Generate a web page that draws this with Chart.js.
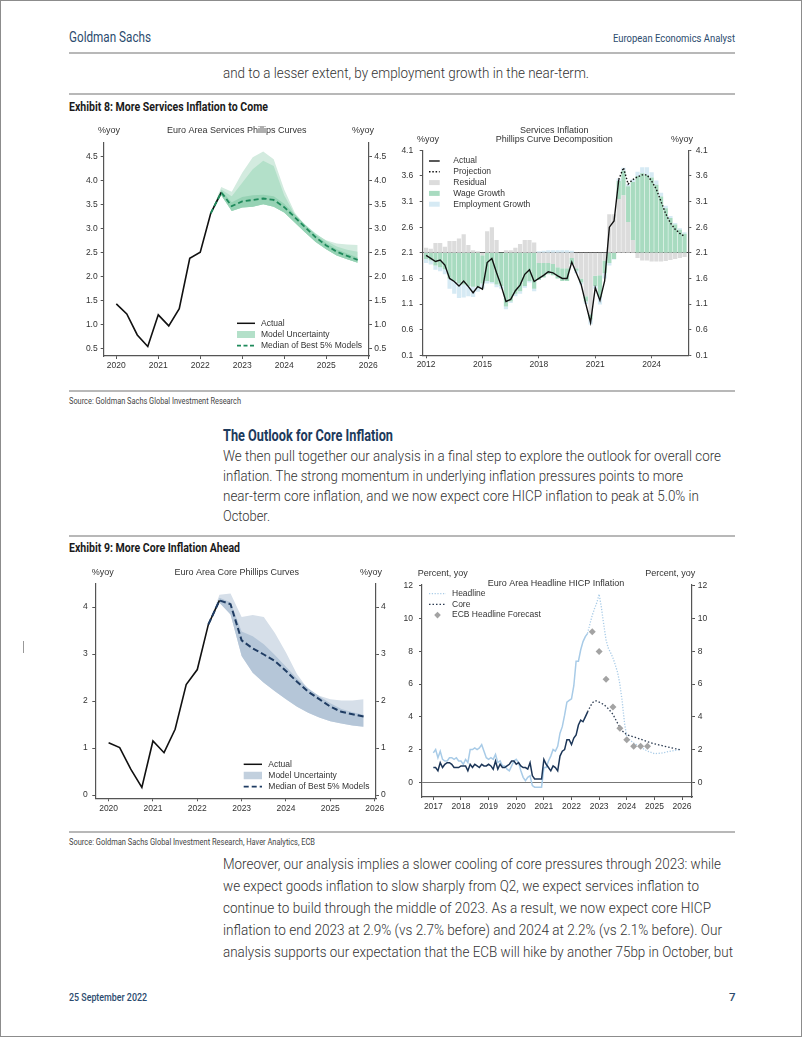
<!DOCTYPE html>
<html>
<head>
<meta charset="utf-8">
<script src="https://cdn.jsdelivr.net/npm/chart.js@4.4.1/dist/chart.umd.min.js"></script>
<style>
html, body { margin: 0; padding: 0; background: #fff; }
#page { position: relative; width: 802px; height: 1037px; box-sizing: border-box; border: 1px solid #8c8c8c; overflow: hidden; font-family: Roboto, "Liberation Sans", sans-serif; }
.t { position: absolute; white-space: nowrap; line-height: 1; transform-origin: 0 50%; transform: translateY(-50%); }
.body { font-size: 14px; font-weight: 300; color: #333; }
.hd { font-weight: 700; color: #1a1a1a; font-size: 12px; }
.src { font-size: 8.5px; color: #444; }
.navy { color: #2c4b6e; }
.rule { position: absolute; left: 68px; width: 666px; height: 2px; background: #b8b8b8; }
canvas { position: absolute; }
</style>
</head>
<body>
<div id="page">
  <div class="t navy fit" data-w="82" style="left:68px;top:36px;font-size:15px">Goldman Sachs</div>
  <div class="t navy fit" data-w="122" style="left:612px;top:38px;font-size:11.5px">European Economics Analyst</div>
  <div class="rule" style="top:51px"></div>
  <div class="t body fit" data-w="366" style="left:222px;top:72px">and to a lesser extent, by employment growth in the near-term.</div>
  <div class="rule" style="top:92px"></div>
  <div class="t hd fit" data-w="199" style="left:68px;top:106px">Exhibit 8: More Services Inflation to Come</div>

  <canvas id="c1" width="320" height="262" style="left:80px;top:118px"></canvas>
  <canvas id="c2" width="340" height="262" style="left:400px;top:118px"></canvas>

  <div class="rule" style="top:389px"></div>
  <div class="t src fit" data-w="172" style="left:68px;top:400px">Source: Goldman Sachs Global Investment Research</div>
  <div class="t fit" data-w="170" style="left:222px;top:435px;font-size:16px;font-weight:700;color:#1d3a5c">The Outlook for Core Inflation</div>
  <div class="t body fit" data-w="498" style="left:222px;top:455px">We then pull together our analysis in a final step to explore the outlook for overall core</div>
  <div class="t body fit" data-w="460" style="left:222px;top:475px">inflation. The strong momentum in underlying inflation pressures points to more</div>
  <div class="t body fit" data-w="476" style="left:222px;top:495px">near-term core inflation, and we now expect core HICP inflation to peak at 5.0% in</div>
  <div class="t body fit" data-w="47" style="left:222px;top:515px">October.</div>
  <div class="rule" style="top:534px"></div>
  <div class="t hd fit" data-w="171" style="left:68px;top:547px">Exhibit 9: More Core Inflation Ahead</div>

  <canvas id="c3" width="320" height="262" style="left:80px;top:560px"></canvas>
  <canvas id="c4" width="340" height="262" style="left:400px;top:560px"></canvas>
  <div style="position:absolute;left:22px;top:640px;width:1px;height:12px;background:#999"></div>

  <div class="rule" style="top:830px"></div>
  <div class="t src fit" data-w="246" style="left:68px;top:841px">Source: Goldman Sachs Global Investment Research, Haver Analytics, ECB</div>
  <div class="t body fit" data-w="498" style="left:222px;top:863px">Moreover, our analysis implies a slower cooling of core pressures through 2023: while</div>
  <div class="t body fit" data-w="476" style="left:222px;top:885px">we expect goods inflation to slow sharply from Q2, we expect services inflation to</div>
  <div class="t body fit" data-w="488" style="left:222px;top:907px">continue to build through the middle of 2023. As a result, we now expect core HICP</div>
  <div class="t body fit" data-w="499" style="left:222px;top:929px">inflation to end 2023 at 2.9% (vs 2.7% before) and 2024 at 2.2% (vs 2.1% before). Our</div>
  <div class="t body fit" data-w="510" style="left:222px;top:951px">analysis supports our expectation that the ECB will hike by another 75bp in October, but</div>
  <div class="t navy fit" data-w="78" style="left:68px;top:997px;font-size:11.5px;font-weight:500">25 September 2022</div>
  <div class="t navy" style="left:728px;top:997px;font-size:11.5px;font-weight:500">7</div>
</div>

<script>
// ---------- data: Exhibit 8 left (services Phillips curves, quarterly) ----------
const svActualX = [2020, 2020.25, 2020.5, 2020.75, 2021, 2021.25, 2021.5, 2021.75, 2022, 2022.25, 2022.5];
const svActual = [1.43, 1.22, 0.78, 0.54, 1.2, 0.97, 1.33, 2.38, 2.51, 3.32, 3.76];
const svProjX = [2022.25, 2022.5, 2022.75, 2023, 2023.25, 2023.5, 2023.75, 2024, 2024.25, 2024.5, 2024.75, 2025, 2025.25, 2025.5, 2025.75];
const svMedian = [3.32, 3.76, 3.47, 3.57, 3.6, 3.63, 3.6, 3.45, 3.24, 3.03, 2.82, 2.65, 2.52, 2.43, 2.35];
const svUpperOuter = [3.32, 3.87, 3.77, 4.17, 4.49, 4.61, 4.45, 3.82, 3.34, 3.06, 2.88, 2.76, 2.69, 2.67, 2.66];
const svUpperInner = [3.32, 3.82, 3.68, 3.96, 4.24, 4.42, 4.31, 3.7, 3.3, 3.08, 2.9, 2.75, 2.63, 2.56, 2.52];
const svUpperCore = [3.32, 3.8, 3.55, 3.66, 3.7, 3.71, 3.68, 3.52, 3.3, 3.08, 2.87, 2.7, 2.57, 2.48, 2.4];
const svLower = [3.32, 3.7, 3.37, 3.44, 3.46, 3.51, 3.46, 3.34, 3.13, 2.92, 2.72, 2.57, 2.44, 2.36, 2.29];
const svTicks = [0.5, 1, 1.5, 2, 2.5, 3, 3.5, 4, 4.5];
const yearsA = [2020, 2021, 2022, 2023, 2024, 2025, 2026];

// ---------- data: Exhibit 8 right (decomposition around 2.1, quarterly from 2012Q1) ----------
const sdResidual = [0.10, 0.08, 0.19, 0.19, 0.12, 0.23, 0.23, 0.28, 0.36, 0.15, 0.05, 0.03, -0.05, 0.42, 0.50, 0.25,
  0.00, 0.05, 0.05, 0.10, 0.17, 0.25, 0.25, 0.20, -0.20, -0.20, -0.20, -0.22, -0.28, -0.30, -0.30, -0.10,
  -0.30, -0.50, -0.85, -1.20, -0.45, -0.44, -0.15, 0.75, 0.75, 1.05, 1.12, 0.60, 0.25, -0.10,
  -0.15, -0.15, -0.17, -0.17, -0.17, -0.16, -0.14, -0.12, -0.10, -0.08];
const sdWage = [-0.12, -0.15, -0.25, -0.28, -0.32, -0.50, -0.55, -0.60, -0.62, -0.65, -0.66, -0.66, -0.55, -0.55, -0.57, -0.62,
  -0.65, -1.05, -0.95, -0.80, -0.75, -0.65, -0.55, -0.70, -0.33, -0.28, -0.22, -0.22, -0.22, -0.25, -0.25, -0.12,
  -0.05, -0.08, -0.10, -0.10, -0.20, -0.42, -0.25, -0.20, -0.12, 0.35, 0.48, 0.70, 1.13, 1.50,
  1.55, 1.52, 1.47, 1.33, 1.10, 0.87, 0.68, 0.55, 0.45, 0.37];
const sdEmployment = [-0.08, -0.08, -0.08, -0.08, -0.10, -0.20, -0.25, -0.28, -0.25, -0.20, -0.20, -0.10, -0.10, -0.05, -0.03, -0.05,
  -0.05, -0.05, -0.03, -0.05, -0.05, -0.03, -0.03, -0.05, 0.03, 0.04, 0.05, 0.05, 0.05, 0.05, 0.05, 0.04,
  -0.05, -0.04, -0.05, -0.10, -0.05, -0.15, -0.10, -0.05, -0.01, 0.05, 0.06, 0.04, 0.05, 0.08,
  0.12, 0.15, 0.10, 0.08, 0.07, 0.05, 0.04, 0.03, 0.03, 0.03];
const sdActual = [2.05, 1.99, 1.93, 1.96, 1.86, 1.6, 1.54, 1.45, 1.55, 1.44, 1.32, 1.44, 1.39, 1.91, 1.99, 1.71,
  1.45, 1.15, 1.19, 1.36, 1.47, 1.68, 1.77, 1.54, 1.6, 1.66, 1.73, 1.71, 1.65, 1.6, 1.6, 1.92,
  1.7, 1.48, 1.1, 0.74, 1.42, 1.17, 1.55, 2.6, 2.72, 3.53];
const sdProjection = [3.53, 3.76, 3.44, 3.53, 3.58, 3.62, 3.62, 3.5, 3.34, 3.1, 2.86, 2.68, 2.56, 2.48, 2.42];
const sdBase = 2.1;
const sdTicks = [0.1, 0.6, 1.1, 1.6, 2.1, 2.6, 3.1, 3.6, 4.1];
const yearsB = [2012, 2015, 2018, 2021, 2024];

// ---------- data: Exhibit 9 left (core Phillips curves, quarterly) ----------
const cpActualX = [2020, 2020.25, 2020.5, 2020.75, 2021, 2021.25, 2021.5, 2021.75, 2022, 2022.25, 2022.5];
const cpActual = [1.11, 1.01, 0.55, 0.16, 1.15, 0.9, 1.4, 2.35, 2.67, 3.63, 4.14];
const cpProjX = [2022.25, 2022.5, 2022.75, 2023, 2023.25, 2023.5, 2023.75, 2024, 2024.25, 2024.5, 2024.75, 2025, 2025.25, 2025.5, 2025.75];
const cpMedian = [3.63, 4.14, 4.06, 3.29, 3.12, 2.99, 2.85, 2.64, 2.41, 2.2, 2.04, 1.88, 1.77, 1.72, 1.67];
const cpUpperOuter = [3.63, 4.26, 4.29, 3.79, 3.83, 3.79, 3.45, 3.03, 2.57, 2.25, 2.11, 2.04, 2.01, 2.01, 2.04];
const cpUpperInner = [3.63, 4.2, 4.1, 3.48, 3.38, 3.21, 2.98, 2.73, 2.48, 2.27, 2.1, 1.95, 1.83, 1.76, 1.71];
const cpLower = [3.63, 4.09, 3.84, 2.96, 2.6, 2.39, 2.21, 2.04, 1.88, 1.75, 1.65, 1.57, 1.52, 1.48, 1.45];
const cpTicks = [0, 1, 2, 3, 4];

// ---------- data: Exhibit 9 right (headline HICP, monthly from Jan 2017) ----------
const hcHeadline = [1.8, 2.0, 1.5, 1.9, 1.4, 1.3, 1.3, 1.5, 1.5, 1.4, 1.5, 1.3,
  1.3, 1.1, 1.4, 1.2, 2.0, 2.0, 2.1, 2.0, 2.1, 2.3, 1.9, 1.5,
  1.4, 1.5, 1.4, 1.7, 1.2, 1.3, 1.0, 1.0, 0.8, 0.7, 1.0, 1.3,
  1.4, 1.2, 0.7, 0.3, 0.1, 0.3, 0.4, -0.2, -0.3, -0.3, -0.3, -0.3,
  0.9, 0.9, 1.3, 1.6, 2.0, 1.9, 2.2, 3.0, 3.4, 4.1, 4.9, 5.0,
  5.1, 5.9, 7.4, 7.4, 8.1, 8.6, 8.9, 9.1];
const hcCore = [0.9, 0.9, 0.7, 1.2, 0.9, 1.1, 1.2, 1.2, 1.1, 0.9, 0.9, 0.9,
  1.0, 1.0, 1.0, 0.7, 1.1, 0.9, 1.1, 1.0, 0.9, 1.1, 1.0, 1.0,
  1.1, 1.0, 0.8, 1.3, 0.8, 1.1, 0.9, 0.9, 1.0, 1.1, 1.3, 1.3,
  1.1, 1.2, 1.0, 0.9, 0.9, 0.8, 1.2, 0.4, 0.2, 0.2, 0.2, 0.2,
  1.4, 1.1, 0.9, 0.7, 1.0, 0.9, 0.7, 1.6, 1.9, 2.0, 2.6, 2.6,
  2.3, 2.7, 2.9, 3.5, 3.8, 3.7, 4.0, 4.3];
const hcHeadProjX = [2022.58, 2022.67, 2022.75, 2022.83, 2022.92, 2023, 2023.08, 2023.17, 2023.25, 2023.33, 2023.42, 2023.5, 2023.58,
  2023.67, 2023.75, 2023.83, 2023.92, 2024, 2024.25, 2024.5, 2024.75, 2025, 2025.25, 2025.5, 2025.75, 2025.92];
const hcHeadProj = [9.1, 9.7, 10.2, 10.6, 11.0, 11.5, 10.7, 9.6, 8.7, 8.2, 7.9, 7.6, 7.2,
  6.7, 6.0, 5.0, 3.6, 2.75, 2.4, 2.15, 1.9, 1.75, 1.78, 1.87, 1.95, 2.0];
const hcCoreProjX = [2022.58, 2022.67, 2022.75, 2022.83, 2022.92, 2023, 2023.17, 2023.33, 2023.5, 2023.67, 2023.83, 2024,
  2024.25, 2024.5, 2024.75, 2025, 2025.25, 2025.5, 2025.75, 2025.92];
const hcCoreProj = [4.3, 4.6, 4.85, 4.97, 4.97, 4.9, 4.75, 4.5, 4.15, 3.6, 3.15, 2.9,
  2.78, 2.63, 2.48, 2.35, 2.25, 2.15, 2.05, 2.0];
const ecbX = [2022.75, 2023, 2023.25, 2023.5, 2023.75, 2024, 2024.25, 2024.5, 2024.75];
const ecbForecast = [9.2, 8.0, 6.3, 4.6, 3.3, 2.6, 2.2, 2.2, 2.2];
const hcTicks = [0, 2, 4, 6, 8, 10, 12];
const yearsC = [2017, 2018, 2019, 2020, 2021, 2022, 2023, 2024, 2025, 2026];

// ---------- helpers ----------
Chart.defaults.font.family = '"Liberation Sans", Arial, sans-serif';
Chart.defaults.color = '#333';
const AXIS = '#555';
const FONT = '"Liberation Sans", Arial, sans-serif';

function pts(xs, ys) { return xs.map((x, i) => ({ x: x, y: ys[i] })); }

function axis(o) {
  return {
    type: 'linear', position: o.position, min: o.min, max: o.max, offset: false, z: o.z || 0,
    afterBuildTicks: s => { s.ticks = o.ticks.map(v => ({ value: v })); },
    afterFit: s => { if (o.position === 'bottom') s.height = o.size; else s.width = o.size; },
    grid: { offset: false, drawOnChartArea: !!o.gridColor, color: o.gridColor || AXIS, tickColor: AXIS, tickLength: 3, lineWidth: 1 },
    border: { display: true, color: AXIS, width: 1.2 },
    ticks: { font: { size: 8.5 }, color: '#333', padding: o.pad, autoSkip: false, maxRotation: 0,
      callback: o.fmt || (v => String(v)) }
  };
}

function band(xs, upper, lower, color, order) {
  return [
    { label: 'band', data: pts(xs, upper), fill: '+1', backgroundColor: color, borderColor: 'transparent', borderWidth: 0, pointRadius: 0, order: order },
    { label: 'band', data: pts(xs, lower), fill: false, borderColor: 'transparent', borderWidth: 0, pointRadius: 0, order: order }
  ];
}

function stackBars(base, parts) {
  const up = parts[0].map(() => base), dn = parts[0].map(() => base);
  return parts.map(arr => arr.map((v, i) => {
    if (v >= 0) { const s = up[i]; up[i] += v; return [s, up[i]]; }
    const s = dn[i]; dn[i] += v; return [dn[i], s];
  }));
}

// titles, unit labels and inside legends
const extras = {
  id: 'extras',
  afterDraw(chart, args, o) {
    const c = chart.ctx;
    c.save();
    c.textBaseline = 'middle';
    (o.texts || []).forEach(t => {
      c.font = (t.size || 9) + 'px ' + FONT;
      c.fillStyle = '#333';
      c.textAlign = t.align || 'center';
      c.fillText(t.text, t.x, t.y);
    });
    const L = o.legend;
    if (L) L.items.forEach((it, k) => {
      const y = L.y + k * L.gap;
      if (it.kind === 'box') {
        c.fillStyle = it.color;
        c.fillRect(L.x0, y - L.h / 2, L.x1 - L.x0, L.h);
      } else if (it.kind === 'diamond') {
        const cx = (L.x0 + L.x1) / 2, r = 3.3;
        c.fillStyle = it.color;
        c.beginPath(); c.moveTo(cx, y - r); c.lineTo(cx + r, y); c.lineTo(cx, y + r); c.lineTo(cx - r, y); c.closePath(); c.fill();
      } else {
        c.setLineDash(it.dash || []);
        c.strokeStyle = it.color; c.lineWidth = it.width || 1.5;
        c.beginPath(); c.moveTo(L.x0, y); c.lineTo(L.x1, y); c.stroke();
        c.setLineDash([]);
      }
      c.fillStyle = '#333'; c.textAlign = 'left'; c.font = '8.5px ' + FONT;
      c.fillText(it.label, L.tx, y);
    });
    c.restore();
  }
};
Chart.register(extras);

const base = {
  responsive: false, animation: false, events: [],
  elements: { line: { tension: 0 } }
};

// ---------- chart 1 ----------
new Chart(document.getElementById('c1'), {
  type: 'line',
  data: { datasets: [
    ...band(svProjX, svUpperOuter, svLower, '#d3ebdf', 8),
    ...band(svProjX, svUpperInner, svLower, '#b3e0c9', 7),
    ...band(svProjX, svUpperCore, svLower, '#96d2b4', 6),
    { label: 'Actual', data: pts(svActualX, svActual), borderColor: '#111', borderWidth: 1.6, pointRadius: 0, order: 1 },
    { label: 'Median of Best 5% Models', data: pts(svProjX, svMedian), borderColor: '#1e8a5b', borderWidth: 1.8, borderDash: [5, 3], pointRadius: 0, order: 0 }
  ] },
  options: { ...base,
    layout: { padding: { top: 24, left: 0, right: 0, bottom: 0 } },
    plugins: { legend: { display: false }, tooltip: { enabled: false },
      extras: {
        texts: [
          { text: 'Euro Area Services Phillips Curves', x: 155.7, y: 12 },
          { text: '%yoy', x: 28, y: 12 }, { text: '%yoy', x: 282, y: 12 }
        ],
        legend: { x0: 156, x1: 174, tx: 180, y: 204.3, gap: 11.2, h: 7, items: [
          { kind: 'line', label: 'Actual', color: '#111' },
          { kind: 'box', label: 'Model Uncertainty', color: '#b3e0c9' },
          { kind: 'line', label: 'Median of Best 5% Models', color: '#1e8a5b', dash: [4, 2.5], width: 1.8 }
        ] }
      } },
    scales: {
      x: axis({ position: 'bottom', min: 2019.7, max: 2026.02, ticks: yearsA, size: 25, pad: 1.5 }),
      y: axis({ position: 'left', min: 0.34, max: 4.79, ticks: svTicks, size: 22.7, pad: 3, fmt: v => v.toFixed(1) }),
      y2: axis({ position: 'right', min: 0.34, max: 4.79, ticks: svTicks, size: 32, pad: 2.3, fmt: v => v.toFixed(1) })
    }
  }
});

// ---------- chart 2 ----------
const sdQuarters = sdResidual.map((_, i) => 2012 + i / 4);
const sdStacks = stackBars(sdBase, [sdResidual, sdWage, sdEmployment]);
function barSet(label, ranges, color) {
  return { type: 'bar', label: label, data: sdQuarters.map((x, i) => ({ x: x, y: ranges[i] })), backgroundColor: color,
    borderWidth: 0, barPercentage: 0.9, categoryPercentage: 1, grouped: false, order: 3 };
}
new Chart(document.getElementById('c2'), {
  type: 'bar',
  data: { datasets: [
    barSet('Residual', sdStacks[0], '#dcdcdc'),
    barSet('Wage Growth', sdStacks[1], '#a8dbc0'),
    barSet('Employment Growth', sdStacks[2], '#d6eaf4'),
    { type: 'line', label: 'Actual', data: pts(sdQuarters.slice(0, sdActual.length), sdActual), borderColor: '#111', borderWidth: 1.4, pointRadius: 0, order: 1 },
    { type: 'line', label: 'Projection', data: pts(sdQuarters.slice(sdActual.length - 1), sdProjection), borderColor: '#111', borderWidth: 1.4, borderDash: [1.5, 1.8], pointRadius: 0, order: 0 }
  ] },
  options: { ...base,
    layout: { padding: { top: 31.3, left: 0, right: 0, bottom: 0 } },
    plugins: { legend: { display: false }, tooltip: { enabled: false },
      extras: {
        texts: [
          { text: 'Services Inflation', x: 153.3, y: 12 },
          { text: 'Phillips Curve Decomposition', x: 153.3, y: 21 },
          { text: '%yoy', x: 27, y: 21 }, { text: '%yoy', x: 281, y: 21 }
        ],
        legend: { x0: 28, x1: 38.7, tx: 52.3, y: 42, gap: 10.8, h: 5, items: [
          { kind: 'line', label: 'Actual', color: '#111', width: 1.4 },
          { kind: 'line', label: 'Projection', color: '#111', dash: [1.5, 1.8], width: 1.4 },
          { kind: 'box', label: 'Residual', color: '#dcdcdc' },
          { kind: 'box', label: 'Wage Growth', color: '#a8dbc0' },
          { kind: 'box', label: 'Employment Growth', color: '#d6eaf4' }
        ] }
      } },
    scales: {
      x: axis({ position: 'bottom', min: 2011.82, max: 2025.95, ticks: yearsB, size: 25.7, pad: 1.5 }),
      y: axis({ position: 'left', min: 0.1, max: 4.1, ticks: sdTicks, size: 21.7, pad: 6.5, z: 1, fmt: v => v.toFixed(1),
        gridColor: ctx => (ctx.tick && ctx.tick.value === sdBase ? '#444' : 'rgba(0,0,0,0)') }),
      y2: axis({ position: 'right', min: 0.1, max: 4.1, ticks: sdTicks, size: 52.7, pad: 4.5, fmt: v => v.toFixed(1) })
    }
  }
});

// ---------- chart 3 ----------
new Chart(document.getElementById('c3'), {
  type: 'line',
  data: { datasets: [
    ...band(cpProjX, cpUpperOuter, cpLower, '#d6dfe9', 8),
    ...band(cpProjX, cpUpperInner, cpLower, '#b5c6d8', 7),
    { label: 'Actual', data: pts(cpActualX, cpActual), borderColor: '#111', borderWidth: 1.6, pointRadius: 0, order: 1 },
    { label: 'Median of Best 5% Models', data: pts(cpProjX, cpMedian), borderColor: '#1f3c63', borderWidth: 2, borderDash: [6, 3], pointRadius: 0, order: 0 }
  ] },
  options: { ...base,
    layout: { padding: { top: 23, left: 0, right: 0, bottom: 0 } },
    plugins: { legend: { display: false }, tooltip: { enabled: false },
      extras: {
        texts: [
          { text: 'Euro Area Core Phillips Curves', x: 155.7, y: 11.7 },
          { text: '%yoy', x: 21.7, y: 11.7 }, { text: '%yoy', x: 290, y: 11.7 }
        ],
        legend: { x0: 162.7, x1: 181, tx: 187.3, y: 203.3, gap: 11.2, h: 7.5, items: [
          { kind: 'line', label: 'Actual', color: '#111' },
          { kind: 'box', label: 'Model Uncertainty', color: '#c2d0de' },
          { kind: 'line', label: 'Median of Best 5% Models', color: '#1f3c63', dash: [5, 3], width: 1.8 }
        ] }
      } },
    scales: {
      x: axis({ position: 'bottom', min: 2019.7, max: 2026.03, ticks: yearsA, size: 24.7, pad: 2 }),
      y: axis({ position: 'left', min: -0.07, max: 4.49, ticks: cpTicks, size: 14.3, pad: 4.5 }),
      y2: axis({ position: 'right', min: -0.07, max: 4.49, ticks: cpTicks, size: 25, pad: 2 })
    }
  }
});

// ---------- chart 4 ----------
const hcMonths = hcHeadline.map((_, i) => 2017 + i / 12);
new Chart(document.getElementById('c4'), {
  type: 'line',
  data: { datasets: [
    { label: 'Headline', data: pts(hcMonths, hcHeadline), borderColor: '#a8cbe7', borderWidth: 1.5, pointRadius: 0, order: 4 },
    { label: 'Core', data: pts(hcMonths, hcCore), borderColor: '#1c3658', borderWidth: 1.5, pointRadius: 0, order: 2 },
    { label: 'Headline projection', data: pts(hcHeadProjX, hcHeadProj), borderColor: '#a8cbe7', borderWidth: 1.3, borderDash: [1.2, 1.6], pointRadius: 0, order: 3 },
    { label: 'Core projection', data: pts(hcCoreProjX, hcCoreProj), borderColor: '#2b3a50', borderWidth: 1.3, borderDash: [1.5, 2], pointRadius: 0, order: 1 },
    { label: 'ECB Headline Forecast', data: pts(ecbX, ecbForecast), showLine: false, pointStyle: 'rectRot', pointRadius: 3.5,
      backgroundColor: '#a3a3a3', borderColor: '#a3a3a3', borderWidth: 0, order: 0 }
  ] },
  options: { ...base,
    layout: { padding: { top: 23.3, left: 0, right: 0, bottom: 0 } },
    plugins: { legend: { display: false }, tooltip: { enabled: false },
      extras: {
        texts: [
          { text: 'Euro Area Headline HICP Inflation', x: 155, y: 22.7 },
          { text: 'Percent, yoy', x: 41.7, y: 12.3 }, { text: 'Percent, yoy', x: 269.3, y: 12.3 }
        ],
        legend: { x0: 28, x1: 45, tx: 51, y: 32.7, gap: 10.7, h: 5, items: [
          { kind: 'line', label: 'Headline', color: '#a8cbe7', dash: [1.2, 1.6], width: 1.3 },
          { kind: 'line', label: 'Core', color: '#2b3a50', dash: [1.5, 2], width: 1.3 },
          { kind: 'diamond', label: 'ECB Headline Forecast', color: '#a3a3a3' }
        ] }
      } },
    scales: {
      x: axis({ position: 'bottom', min: 2016.59, max: 2026.36, ticks: yearsC, size: 26, pad: 2 }),
      y: axis({ position: 'left', min: -0.9, max: 12.1, ticks: hcTicks, size: 21, pad: 6,
        gridColor: ctx => (ctx.tick && ctx.tick.value === 0 ? '#777' : 'rgba(0,0,0,0)') }),
      y2: axis({ position: 'right', min: -0.9, max: 12.1, ticks: hcTicks, size: 49, pad: 2.7 })
    }
  }
});

// squeeze page text lines to the measured widths of the condensed original
function fitText() {
  document.querySelectorAll('.fit').forEach(el => {
    el.style.transform = 'translateY(-50%)';
    const w = el.getBoundingClientRect().width;
    el.style.transform = 'translateY(-50%) scaleX(' + (Number(el.dataset.w) / w) + ')';
  });
}
fitText();
if (document.fonts) document.fonts.ready.then(fitText);
</script>
</body>
</html>
